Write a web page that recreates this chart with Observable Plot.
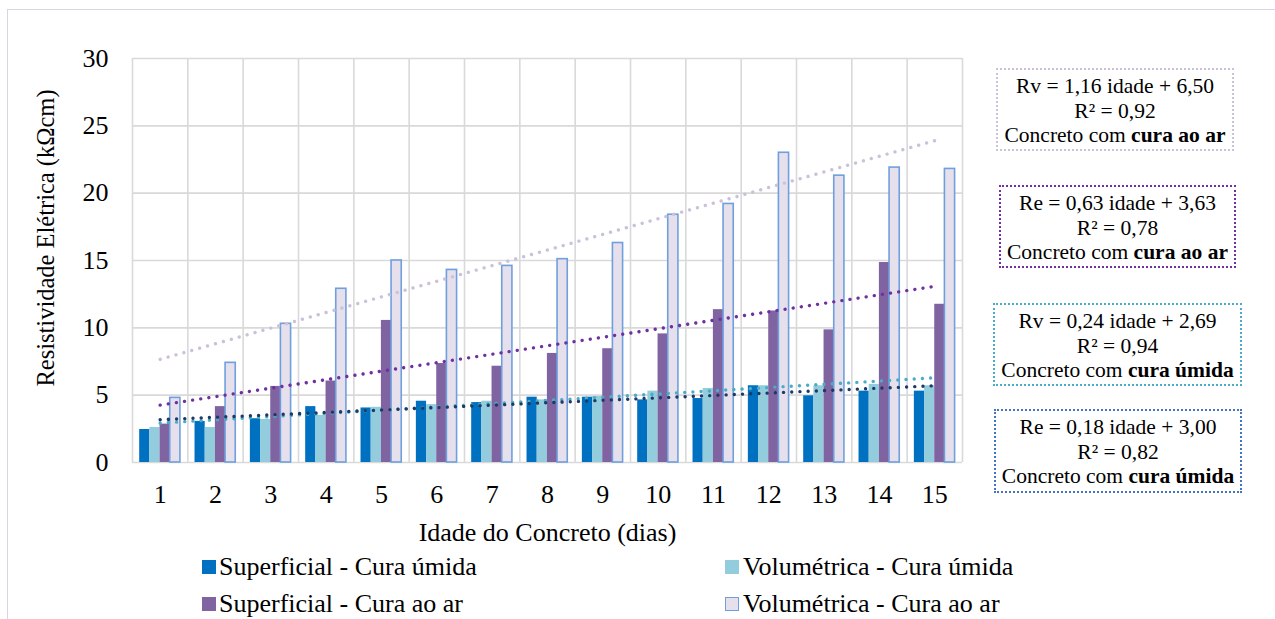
<!DOCTYPE html>
<html>
<head>
<meta charset="utf-8">
<script src="https://cdn.jsdelivr.net/npm/d3@7"></script>
<script src="https://cdn.jsdelivr.net/npm/@observablehq/plot@0.6"></script>
<style>
  html, body { margin: 0; padding: 0; background: #fff; }
  #wrap { position: relative; width: 1275px; height: 619px; overflow: hidden; font-family: "Liberation Serif", "Times New Roman", serif; color: #000; }
  #frame { position: absolute; left: 7px; top: 9px; width: 1300px; height: 700px; border: 1.5px solid #D9D4E6; box-sizing: border-box; }
  #chart { position: absolute; left: 0; top: 0; }
  #ylabel { position: absolute; left: 46px; top: 238px; transform: translate(-50%, -50%) rotate(-90deg); font-size: 24.5px; line-height: 28px; white-space: nowrap; }
  .leg { position: absolute; font-size: 26px; line-height: 30px; white-space: nowrap; }
  .sw { position: absolute; width: 14px; height: 14px; box-sizing: border-box; }
  .box { position: absolute; box-sizing: border-box; border-width: 2.5px; border-style: dotted; text-align: center; font-size: 21.5px; line-height: 24.5px; padding-top: 4px; white-space: nowrap; }
</style>
</head>
<body>
<div id="wrap">
  <div id="frame"></div>
  <div id="chart"></div>
  <div id="ylabel"></div>
</div>
<script>
// ---- data ----
const days = [1, 2, 3, 4, 5, 6, 7, 8, 9, 10, 11, 12, 13, 14, 15];
const supUmida = [2.45, 3.05, 3.25, 4.15, 4.05, 4.55, 4.45, 4.85, 4.85, 4.65, 4.75, 5.7, 4.95, 5.3, 5.3];
const volUmida = [2.6, 2.6, 3.2, 3.5, 4.1, 4.3, 4.55, 4.65, 4.9, 5.3, 5.5, 5.7, 5.7, 5.8, 5.7];
const supAr = [2.85, 4.15, 5.65, 6.05, 10.55, 7.35, 7.15, 8.1, 8.45, 9.55, 11.35, 11.25, 9.85, 14.85, 11.75];
const volAr = [4.8, 7.4, 10.3, 12.9, 15.0, 14.3, 14.6, 15.1, 16.3, 18.4, 19.2, 23.0, 21.3, 21.9, 21.8];
const seriesNames = ["Superficial - Cura úmida", "Volumétrica - Cura úmida", "Superficial - Cura ao ar", "Volumétrica - Cura ao ar"];
const yTicks = [0, 5, 10, 15, 20, 25, 30];
const xTitle = "Idade do Concreto (dias)";
const yTitle = "Resistividade Elétrica (kΩcm)";
// trend line equations (slope, intercept) as shown in the chart
const trendNames = ["Rv ar", "Re ar", "Rv úmida", "Re úmida"];
const trendSlopes = [1.16, 0.63, 0.24, 0.18];
const trendIntercepts = [6.50, 3.63, 2.69, 3.00];
const trendR2 = ["0,92", "0,78", "0,94", "0,82"];
const trendLabels = ["Rv = 1,16 idade + 6,50", "Re = 0,63 idade + 3,63", "Rv = 0,24 idade + 2,69", "Re = 0,18 idade + 3,00"];
const trendCura = ["cura ao ar", "cura ao ar", "cura úmida", "cura úmida"];

// ---- styles ----
const fills = ["#0070C0", "#93CDDD", "#8064A2", "#E5E0EC"];
const strokes = [null, null, null, "#6F9FDD"];
const trendColors = ["#CCC1DA", "#7030A0", "#4BACC6", "#1F3864"];
const boxColors = ["#CCC1DA", "#7030A0", "#4BACC6", "#4472C4"];
const boxPos = [
  {left: 996, top: 68, width: 238, height: 83},
  {left: 999, top: 185, width: 237, height: 83},
  {left: 993, top: 303, width: 249, height: 83},
  {left: 994, top: 409, width: 248, height: 84}
];

const allSeries = [supUmida, volUmida, supAr, volAr];
const barW = 0.184, groupStart = -0.37;
const bounds = [...days.map(d => d - 0.5), days[days.length - 1] + 0.5];

const barMarks = allSeries.map((vals, k) => {
  const rows = days.map((d, i) => ({day: d, value: vals[i], k}));
  return Plot.rectY(rows, {
    x1: d => d.day + groupStart + d.k * barW,
    x2: d => d.day + groupStart + (d.k + 1) * barW,
    y1: 0, y2: "value",
    fill: fills[k],
    stroke: strokes[k] || "none",
    strokeWidth: 1.6
  });
});

const trendMarks = trendSlopes.map((m, k) => {
  const ends = [days[0], days[days.length - 1]];
  return Plot.line(ends, {
    x: d => d, y: d => m * d + trendIntercepts[k],
    stroke: trendColors[k], strokeWidth: 3.4,
    strokeDasharray: "0.01 8.2", strokeLinecap: "round"
  });
});

const chart = Plot.plot({
  width: 1275, height: 550,
  marginLeft: 132, marginRight: 313, marginTop: 58, marginBottom: 88,
  style: {fontFamily: "'Liberation Serif', 'Times New Roman', serif", fontSize: "26px", color: "#000", background: "transparent", overflow: "visible"},
  x: {domain: [0.5, 15.5], ticks: days, tickSize: 0, tickPadding: 22, tickFormat: d => String(d),
      label: xTitle, labelAnchor: "center", labelOffset: 78, labelArrow: "none"},
  y: {domain: [0, 30], ticks: yTicks, tickSize: 0, tickPadding: 24, label: null},
  marks: [
    Plot.gridY(yTicks, {stroke: "#D9D9D9", strokeOpacity: 1, strokeWidth: 1.6}),
    Plot.ruleX(bounds, {stroke: "#D9D9D9", strokeWidth: 1.6}),
    ...barMarks,
    ...trendMarks
  ]
});
const wrap = document.getElementById("wrap");
document.getElementById("chart").appendChild(chart);
document.getElementById("ylabel").textContent = yTitle;

// legend (HTML, below the SVG region)
const legPos = [
  {sx: 202, tx: 219, cy: 567},
  {sx: 725, tx: 743, cy: 567},
  {sx: 202, tx: 219, cy: 604},
  {sx: 725, tx: 743, cy: 604}
];
seriesNames.forEach((name, k) => {
  const p = legPos[k];
  const sw = document.createElement("div");
  sw.className = "sw";
  sw.style.left = p.sx + "px";
  sw.style.top = (p.cy - 7) + "px";
  sw.style.background = fills[k];
  if (strokes[k]) sw.style.border = "1.6px solid " + strokes[k];
  wrap.appendChild(sw);
  const t = document.createElement("div");
  t.className = "leg";
  t.style.left = p.tx + "px";
  t.style.top = (p.cy - 15) + "px";
  t.textContent = name;
  wrap.appendChild(t);
});

// equation boxes
trendLabels.forEach((lab, k) => {
  const b = document.createElement("div");
  b.className = "box";
  const p = boxPos[k];
  Object.assign(b.style, {left: p.left + "px", top: p.top + "px", width: p.width + "px", height: p.height + "px", borderColor: boxColors[k]});
  const l1 = document.createElement("div"); l1.textContent = lab;
  const l2 = document.createElement("div"); l2.textContent = "R² = " + trendR2[k];
  const l3 = document.createElement("div");
  l3.appendChild(document.createTextNode("Concreto com "));
  const bb = document.createElement("b"); bb.textContent = trendCura[k];
  l3.appendChild(bb);
  b.append(l1, l2, l3);
  wrap.appendChild(b);
});
</script>
</body>
</html>
